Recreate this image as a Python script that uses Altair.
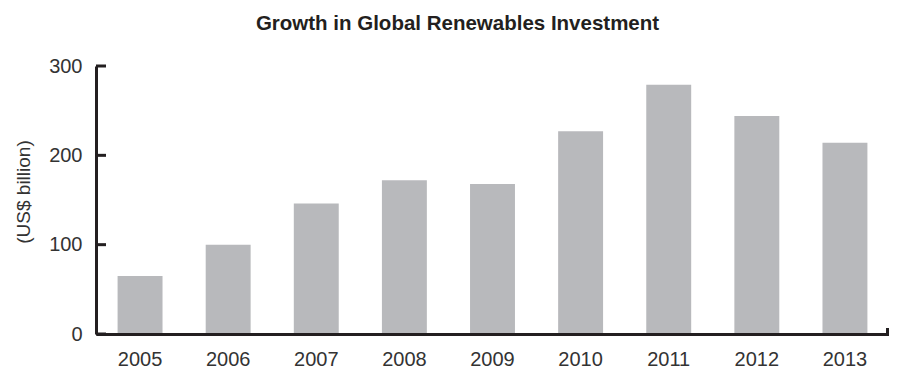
import altair as alt
import pandas as pd

years = ["2005", "2006", "2007", "2008", "2009", "2010", "2011", "2012", "2013"]
investment = [65, 100, 146, 172, 168, 227, 279, 244, 214]
y_ticks = [0, 100, 200, 300]

df = pd.DataFrame({"year": years, "value": investment})
ticks_df = pd.DataFrame({"value": y_ticks})
end_df = pd.DataFrame({"value": [0]})

W, H = 793, 268
INK = "#231f20"
TXT = "#333333"
FONT = "Liberation Sans"

bars = alt.Chart(df).mark_bar(color="#b8b9bc").encode(
    x=alt.X(
        "year:N",
        sort=years,
        scale=alt.Scale(paddingInner=0.49, paddingOuter=0.245),
        axis=alt.Axis(
            title=None, labelAngle=0, ticks=False, tickSize=0, labelPadding=15,
            domainColor=INK, domainWidth=3, labelFont=FONT, labelFontSize=20,
            labelColor=TXT, zindex=1,
        ),
    ),
    y=alt.Y(
        "value:Q",
        scale=alt.Scale(domain=[0, 300], nice=False),
        axis=alt.Axis(
            title="(US$ billion)", values=y_ticks, grid=False, ticks=False, tickSize=0,
            labelPadding=14, labelFont=FONT, labelFontSize=20, labelColor=TXT,
            domainColor=INK, domainWidth=3, zindex=1,
            titleX=-73, titleY=125.5, titleAngle=-90, titleAlign="center",
            titleBaseline="middle", titleFont=FONT, titleFontSize=19,
            titleFontWeight="normal", titleColor=TXT,
        ),
    ),
)

ticks = alt.Chart(ticks_df).mark_rule(color=INK, strokeWidth=3).encode(
    y="value:Q", x=alt.value(0), x2=alt.value(10)
)

end_tick = alt.Chart(end_df).mark_rule(color=INK, strokeWidth=3).encode(
    x=alt.value(W - 1.5), y=alt.value(H), y2=alt.value(H - 6)
)

chart = (
    alt.layer(bars, ticks, end_tick)
    .properties(
        width=W,
        height=H,
        title=alt.Title(
            "Growth in Global Renewables Investment",
            font=FONT, fontSize=20.5, fontWeight="bold", color=INK,
            anchor="middle", frame="group", dx=-35, offset=22,
        ),
        autosize=alt.AutoSizeParams(type="none"),
        padding={"left": 88, "top": 58, "right": 0, "bottom": 33},
    )
    .configure_view(stroke=None)
)

chart.save("out.html", embed_options={"renderer": "svg", "actions": False})
